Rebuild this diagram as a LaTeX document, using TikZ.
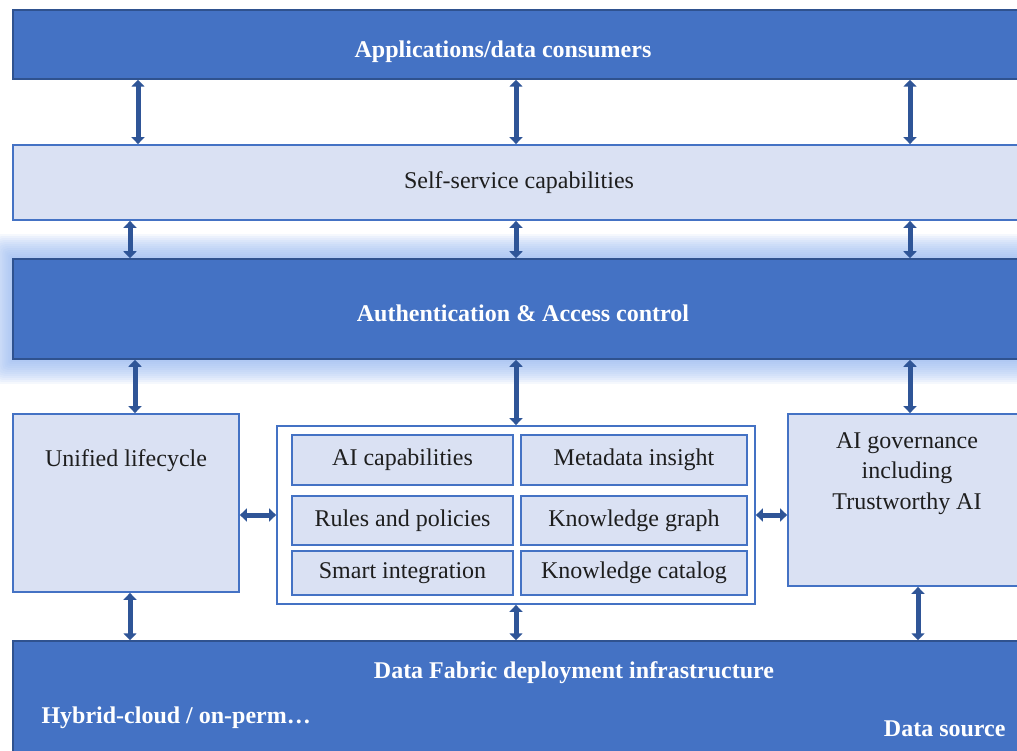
\documentclass[tikz,border=0pt]{standalone}
\usepackage{fontspec}
\setmainfont{Liberation Serif}
\usetikzlibrary{arrows.meta,positioning,backgrounds}

\definecolor{dfblue}{RGB}{68,114,196}
\definecolor{dfedge}{RGB}{47,82,143}
\definecolor{dflight}{RGB}{218,225,243}
\definecolor{dfarrow}{RGB}{47,85,151}
\definecolor{dfglow}{RGB}{140,176,238}
\definecolor{dftext}{RGB}{30,30,30}

\tikzset{
  bar/.style={rectangle, draw=dfedge, line width=1.5pt, fill=dfblue, text=white, font=\fontsize{24}{29}\selectfont\bfseries},
  barlabel/.style={text=white, font=\fontsize{24}{29}\selectfont\bfseries},
  panel/.style={rectangle, draw=dfblue, line width=1.8pt, fill=dflight, text=dftext, font=\fontsize{24}{29}\selectfont},
  panellabel/.style={text=dftext, font=\fontsize{24}{30.5}\selectfont},
  cell/.style={panel, line width=1.2pt},
  link/.style={draw=dfarrow, line width=5pt, {Triangle[width=13pt,length=7pt]}-{Triangle[width=13pt,length=7pt]}},
}

\begin{document}
\begin{tikzpicture}[x=1pt,y=-1pt]
    \useasboundingbox (0,0) rectangle (1017,751);

    % Top - consumers
    \node[bar, minimum width=1012pt, minimum height=69pt,
          label={[barlabel, xshift=-16pt, yshift=-7pt]center:Applications/data consumers}] (apps) at (519,44.5) {};

    % Self-service layer
    \node[panel, minimum width=1012pt, minimum height=75pt] (self) at (519,182.5) {Self-service capabilities};

    % Access control (glowing bar)
    \node[bar, minimum width=1012pt, minimum height=100pt,
          label={[barlabel, xshift=4pt, yshift=-4pt]center:Authentication \& Access control}] (auth) at (519,309) {};

    % Middle row - left
    \node[panel, minimum width=226pt, minimum height=178pt,
          label={[panellabel, anchor=north, yshift=-33pt]north:Unified lifecycle}] (life) at (126,503) {};

    % Middle row - centre container with six cells
    \node[panel, fill=white, minimum width=478pt, minimum height=178pt] (core) at (516,515) {};
    \node[cell, minimum width=221pt, minimum height=50pt] (aicap) at (402.5,460) {AI capabilities};
    \node[cell, minimum width=226pt, minimum height=50pt] (meta) at (634,460) {Metadata insight};
    \node[cell, minimum width=221pt, minimum height=49pt] (rules) at (402.5,520.5) {Rules and policies};
    \node[cell, minimum width=226pt, minimum height=49pt] (graph) at (634,520.5) {Knowledge graph};
    \node[cell, minimum width=221pt, minimum height=44pt] (smart) at (402.5,573) {Smart integration};
    \node[cell, minimum width=226pt, minimum height=44pt] (catalog) at (634,573) {Knowledge catalog};

    % Middle row - right
    \node[panel, minimum width=234pt, minimum height=172pt,
          label={[panellabel, anchor=north, yshift=-16pt, xshift=2pt, align=center]north:AI governance\\including\\Trustworthy AI}] (gov) at (905,500) {};

    % Bottom - infrastructure
    \node[bar, minimum width=1012pt, minimum height=118pt] (infra) at (519,700) {};
    \node[barlabel] (infralbl) at (574,673) {Data Fabric deployment infrastructure};
    \node[barlabel, anchor=west] (hybrid) at (38,718) {Hybrid-cloud / on-perm…};
    \node[barlabel, anchor=east] (source) at (1009,729) {Data source};

    % Glow round the access control bar
    \begin{scope}[on background layer]
        \foreach \g in {1,...,12}
            \fill[dfglow, opacity=0.09, rounded corners=\g pt]
                ([shift={(-\g*2pt,-\g*2pt)}]auth.south west) rectangle ([shift={(\g*2pt,\g*2pt)}]auth.north east);
    \end{scope}

    % Vertical links
    \draw[link] ([xshift=12pt]apps.south -| life) -- ([xshift=12pt]self.north -| life);
    \draw[link] (apps.south -| core) -- (self.north -| core);
    \draw[link] ([xshift=5pt]apps.south -| gov) -- ([xshift=5pt]self.north -| gov);

    \draw[link] ([xshift=4pt]self.south -| life) -- ([xshift=4pt]auth.north -| life);
    \draw[link] (self.south -| core) -- (auth.north -| core);
    \draw[link] ([xshift=5pt]self.south -| gov) -- ([xshift=5pt]auth.north -| gov);

    \draw[link] ([xshift=9pt]auth.south -| life) -- ([xshift=9pt]life.north);
    \draw[link] (auth.south -| core) -- (core.north);
    \draw[link] ([xshift=5pt]auth.south -| gov) -- ([xshift=5pt]gov.north);

    \draw[link] ([xshift=4pt]life.south) -- ([xshift=4pt]infra.north -| life);
    \draw[link] (core.south) -- (infra.north -| core);
    \draw[link] ([xshift=13pt]gov.south) -- ([xshift=13pt]infra.north -| gov);

    % Horizontal links
    \draw[link] (life.east |- core.west) -- (core.west);
    \draw[link] (core.east) -- (gov.west |- core.east);
\end{tikzpicture}
\end{document}
